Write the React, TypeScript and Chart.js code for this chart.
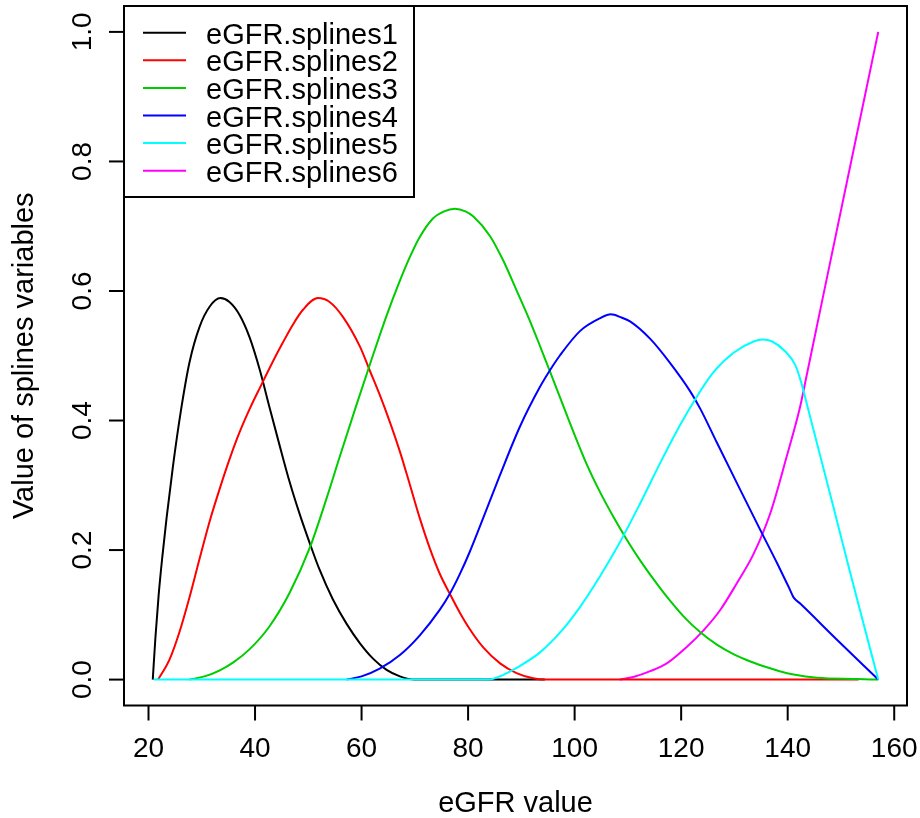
import React, { useEffect, useRef } from "react";
import { Chart, registerables } from "chart.js";

Chart.register(...registerables);

// ---- data ----
const xTicks = [20, 40, 60, 80, 100, 120, 140, 160];
const yTicks = [0, 0.2, 0.4, 0.6, 0.8, 1.0];
const yTickLabels = ["0.0", "0.2", "0.4", "0.6", "0.8", "1.0"];
const xTitle = "eGFR value";
const yTitle = "Value of splines variables";
const seriesNames = [
  "eGFR.splines1",
  "eGFR.splines2",
  "eGFR.splines3",
  "eGFR.splines4",
  "eGFR.splines5",
  "eGFR.splines6",
];
const seriesColors = ["#000000", "#FF0000", "#00CD00", "#0000FF", "#00FFFF", "#FF00FF"];

const s1x = [20.8, 21.3, 21.9, 22.6, 23.4, 24.6, 26.1, 27.7, 29.6, 31.5, 33.5, 35.2, 37.1, 39, 40.9, 42.7, 44.6, 46.5, 48.4, 50.3, 52.1, 54.6, 57.2, 59.7, 62.2, 64.7, 67.2, 70, 80, 94.4];
const s1y = [0, 0.065, 0.13, 0.19, 0.25, 0.33, 0.416, 0.49, 0.545, 0.576, 0.589, 0.583, 0.563, 0.528, 0.478, 0.421, 0.362, 0.305, 0.255, 0.21, 0.17, 0.124, 0.086, 0.056, 0.032, 0.015, 0.005, 0, 0, 0];

const s2x = [21.8, 23.9, 25.8, 27.7, 29.6, 31.5, 33.3, 35.2, 37.1, 39, 41, 43.4, 45.2, 47.1, 49, 51.8, 54, 56.5, 59.7, 61.5, 63.4, 65.3, 67.2, 69.1, 70.9, 72.8, 74.7, 76.6, 78.4, 80.3, 82.8, 86, 89.1, 92.2, 94.4, 153.3];
const s2y = [0, 0.03, 0.073, 0.127, 0.187, 0.245, 0.293, 0.34, 0.382, 0.418, 0.452, 0.492, 0.52, 0.548, 0.571, 0.589, 0.583, 0.56, 0.514, 0.478, 0.44, 0.398, 0.352, 0.3, 0.25, 0.203, 0.163, 0.132, 0.104, 0.078, 0.05, 0.025, 0.01, 0.002, 0, 0];

const s3x = [27.7, 30.5, 33.3, 36, 39, 42.7, 46.5, 50.3, 53.4, 55.9, 59, 61.5, 64.7, 67.2, 69.1, 70.9, 73.4, 75.5, 77.5, 79.5, 81, 84.1, 86.6, 89.1, 91.6, 93.5, 95.4, 97.2, 99.7, 102.3, 104.8, 107.3, 109.8, 112.3, 114.8, 117.3, 120.4, 123.6, 126.7, 129.9, 133, 136.1, 138.5, 141.1, 145.5, 153, 157];
const s3y = [0, 0.005, 0.014, 0.027, 0.047, 0.082, 0.134, 0.204, 0.279, 0.344, 0.423, 0.485, 0.562, 0.616, 0.653, 0.683, 0.712, 0.723, 0.727, 0.723, 0.715, 0.685, 0.647, 0.601, 0.554, 0.515, 0.475, 0.437, 0.384, 0.332, 0.289, 0.251, 0.216, 0.184, 0.155, 0.128, 0.098, 0.073, 0.054, 0.039, 0.028, 0.019, 0.013, 0.008, 0.003, 0.001, 0];

const s4x = [57.2, 60, 63.4, 67.2, 70.9, 74.7, 76.6, 78.4, 80.3, 82.2, 86, 89.7, 93.5, 95.4, 97.2, 101, 104.8, 106.8, 108.8, 110.4, 114.2, 117.9, 121.7, 123.6, 126.7, 131.1, 134.8, 138, 140.3, 141.1, 142.4, 149.2, 157];
const s4y = [0, 0.005, 0.017, 0.038, 0.068, 0.108, 0.133, 0.162, 0.197, 0.236, 0.316, 0.39, 0.452, 0.478, 0.5, 0.538, 0.558, 0.564, 0.559, 0.553, 0.526, 0.489, 0.445, 0.418, 0.366, 0.293, 0.232, 0.18, 0.141, 0.127, 0.117, 0.062, 0];

const s5x = [21, 83.8, 86.5, 89.1, 93.5, 97.2, 101, 104.8, 108.5, 112.3, 116.1, 119.8, 122.5, 126, 129.9, 133.6, 135.3, 137.1, 139.5, 141.4, 142.5, 143.8, 148.6, 151.7, 157];
const s5y = [0, 0, 0.007, 0.018, 0.042, 0.072, 0.112, 0.16, 0.212, 0.272, 0.335, 0.393, 0.431, 0.474, 0.505, 0.522, 0.525, 0.522, 0.507, 0.486, 0.46, 0.419, 0.266, 0.166, 0];

const s6x = [108.5, 111, 114.2, 117.3, 121, 124.2, 127.3, 130.4, 133.6, 136.7, 139.8, 142.3, 143.6, 146.4, 150.4, 157];
const s6y = [0, 0.004, 0.013, 0.025, 0.05, 0.076, 0.107, 0.148, 0.194, 0.256, 0.344, 0.42, 0.471, 0.582, 0.74, 1.0];

const seriesX = [s1x, s2x, s3x, s4x, s5x, s6x];
const seriesY = [s1y, s2y, s3y, s4y, s5y, s6y];
// drawing order (lower = on top), as seen on the zero baseline
const drawOrder = [4, 3, 2, 1, 0, 5];

const FONT = '"Liberation Sans", Arial, sans-serif';

const rStylePlugin = {
  id: "rStyle",
  afterDraw(chart: any) {
    const { ctx, chartArea: a, scales } = chart;
    const xs = scales.x;
    const ys = scales.y;
    ctx.save();
    ctx.strokeStyle = "#000";
    ctx.fillStyle = "#000";
    ctx.lineWidth = 2;
    ctx.lineCap = "butt";

    // plot box
    ctx.strokeRect(a.left, a.top, a.right - a.left, a.bottom - a.top);

    // x axis ticks + labels
    ctx.font = `28px ${FONT}`;
    ctx.textAlign = "center";
    ctx.textBaseline = "alphabetic";
    xTicks.forEach((v) => {
      const px = xs.getPixelForValue(v);
      ctx.beginPath();
      ctx.moveTo(px, a.bottom);
      ctx.lineTo(px, a.bottom + 15);
      ctx.stroke();
      ctx.fillText(String(v), px, a.bottom + 51);
    });

    // y axis ticks + rotated labels
    yTicks.forEach((v, i) => {
      const py = ys.getPixelForValue(v);
      ctx.beginPath();
      ctx.moveTo(a.left - 15, py);
      ctx.lineTo(a.left, py);
      ctx.stroke();
      ctx.save();
      ctx.translate(a.left - 33, py);
      ctx.rotate(-Math.PI / 2);
      ctx.textAlign = "center";
      ctx.textBaseline = "alphabetic";
      ctx.fillText(yTickLabels[i], 0, 0);
      ctx.restore();
    });

    // axis titles
    ctx.font = `29px ${FONT}`;
    ctx.textAlign = "center";
    ctx.fillText(xTitle, (a.left + a.right) / 2, a.bottom + 106);
    ctx.save();
    ctx.translate(33, (a.top + a.bottom) / 2);
    ctx.rotate(-Math.PI / 2);
    ctx.fillText(yTitle, 0, 0);
    ctx.restore();

    // legend (top-left, R style)
    const lx = a.left;
    const ly = a.top;
    const lw = 290;
    const lh = 191;
    ctx.fillStyle = "#fff";
    ctx.fillRect(lx, ly, lw, lh);
    ctx.strokeStyle = "#000";
    ctx.lineWidth = 2;
    ctx.strokeRect(lx, ly, lw, lh);
    ctx.font = `29px ${FONT}`;
    ctx.textAlign = "left";
    ctx.textBaseline = "alphabetic";
    seriesNames.forEach((name, i) => {
      const yy = ly + 26.7 + i * 27.6;
      ctx.strokeStyle = seriesColors[i];
      ctx.lineWidth = 2;
      ctx.beginPath();
      ctx.moveTo(lx + 19, yy);
      ctx.lineTo(lx + 62, yy);
      ctx.stroke();
      ctx.fillStyle = "#000";
      ctx.fillText(name, lx + 82, yy + 11);
    });
    ctx.restore();
  },
};

export default function App() {
  const ref = useRef<HTMLCanvasElement | null>(null);

  useEffect(() => {
    document.body.style.margin = "0";
    const canvas = ref.current;
    if (!canvas) return;
    const datasets = seriesNames.map((name, i) => ({
      label: name,
      data: seriesX[i].map((xv, j) => ({ x: xv, y: seriesY[i][j] })),
      borderColor: seriesColors[i],
      backgroundColor: seriesColors[i],
      borderWidth: 2,
      pointRadius: 0,
      pointHoverRadius: 0,
      fill: false,
      showLine: true,
      cubicInterpolationMode: "monotone" as const,
      order: drawOrder[i],
    }));
    const chart = new Chart(canvas, {
      type: "line",
      data: { datasets },
      options: {
        animation: false,
        responsive: false,
        devicePixelRatio: 1,
        events: [],
        layout: { padding: { left: 124, right: 13, top: 6, bottom: 112.5 } },
        plugins: { legend: { display: false }, tooltip: { enabled: false } },
        scales: {
          x: { type: "linear", min: 15.4, max: 162.4, display: false },
          y: { type: "linear", min: -0.04, max: 1.04, display: false },
        },
      },
      plugins: [rStylePlugin],
    });
    return () => chart.destroy();
  }, []);

  return (
    <canvas
      ref={ref}
      width={920}
      height={818}
      style={{ display: "block", width: 920, height: 818, background: "#fff" }}
    />
  );
}
